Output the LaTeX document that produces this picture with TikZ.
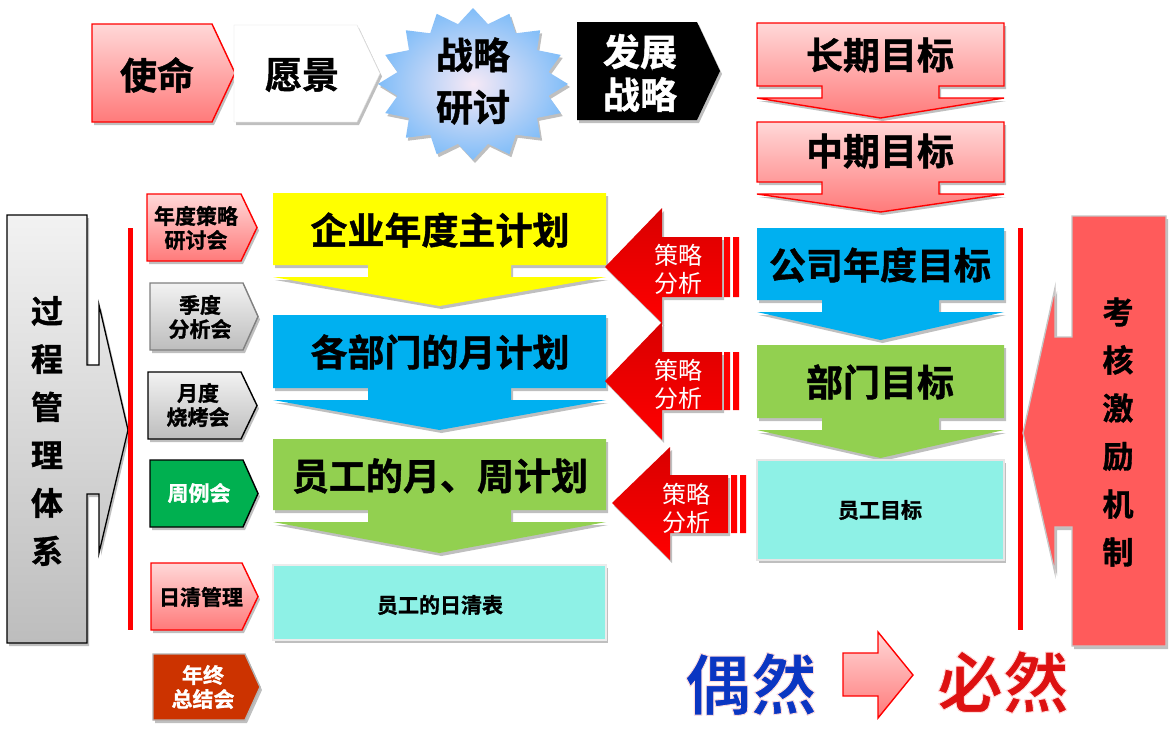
\documentclass[tikz,border=0pt]{standalone}
\usepackage{fontspec}
\newfontfamily\cjk{Noto Sans CJK SC}
\newfontfamily\cjkb{Noto Sans CJK SC Bold}[FakeBold=1.2]
\newfontfamily\cjkrim{Noto Sans CJK SC Bold}[FakeBold=1.4]
\usetikzlibrary{shadows}
\definecolor{pinkT}{HTML}{FFD8D8}
\definecolor{pinkB}{HTML}{FF7A7A}
\definecolor{yel}{HTML}{FFFF00}
\definecolor{blu}{HTML}{00B0F0}
\definecolor{grn}{HTML}{92D050}
\definecolor{cya}{HTML}{8EF1E6}
\definecolor{dgrn}{HTML}{00B050}
\definecolor{orng}{HTML}{CC3300}
\definecolor{khred}{HTML}{FF5B5B}
\definecolor{grayT}{HTML}{F2F2F2}
\definecolor{grayB}{HTML}{BDBDBD}
\definecolor{starO}{HTML}{80BDF8}
\definecolor{starI}{HTML}{F6E9F6}
\definecolor{okblue}{HTML}{0A36C2}
\definecolor{okred}{HTML}{DD1111}
\newcommand\dcall[6]{(#1,#3) -- (#2,#3) -- (#2,#4) -- ({#2-#5},#4) -- ({#2-#5},{#4+12}) -- (#2,{#4+12}) -- ({(#1+#2)/2},#6) -- (#1,{#4+12}) -- ({#1+#5},{#4+12}) -- ({#1+#5},#4) -- (#1,#4) -- cycle}
\newcommand\pent[5]{(#1,#4) -- (#2,#4) -- (#3,{(#4+#5)/2}) -- (#2,#5) -- (#1,#5) -- cycle}
\newcommand\larrow[8]{(#1,#2) -- (#3,#4) -- (#3,#6) -- (#7,#6) -- (#7,#8) -- (#3,#8) -- (#3,#5) -- cycle}
\newcommand\rimstroke{\special{pdf:literal direct 1 0.86 0.86 RG}}
\begin{document}
\begin{tikzpicture}[x=1pt,y=-1pt,
  dshad/.style={drop shadow={shadow xshift=2pt,shadow yshift=-3pt,opacity=.25,fill=black}},
  pinkbox/.style={top color=pinkT,bottom color=pinkB,draw=red,line width=1.4pt},
  graybox/.style={top color=grayT,bottom color=grayB},
  bigtxt/.style={font=\cjkb\fontsize{37}{43}\selectfont,text=black,align=center,inner sep=0pt},
  midtxt/.style={font=\cjkb\fontsize{21}{25}\selectfont,text=black,align=center,inner sep=0pt},
  smltxt/.style={font=\cjkb\fontsize{21}{24}\selectfont,text=black,align=center,inner sep=0pt},
  celue/.style={font=\cjk\fontsize{24}{28}\selectfont,text=white,align=center,inner sep=0pt},
  verttxt/.style={font=\cjkb\fontsize{32}{48}\selectfont,text=black,align=center,inner sep=0pt},
  hugetxt/.style={font=\cjkrim\fontsize{66}{70}\selectfont,inner sep=0pt},
  redarr/.style={top color=red!85!black,bottom color=red,draw=none},
  redline/.style={draw=red,line width=5pt}]
\useasboundingbox[fill=white] (0,0) rectangle (1174,737);

% ---- top row ----
\path[pinkbox,dshad] \pent{92}{212}{235}{24}{122};
\node[bigtxt] (shiming) at (157,75) {使命};
\path[fill=white,draw=gray!25,dshad] \pent{234}{357}{380}{25}{122};
\node[bigtxt] (yuanjing) at (302,75) {愿景};
\path[inner color=starI,outer color=starO,dshad]
  (568,84) \foreach \i in {0,...,15} {
    -- ({473+77*cos(\i*22.5+11.25)},{84+61*sin(\i*22.5+11.25)})
    -- ({473+95*cos((\i+1)*22.5)},{84+76*sin((\i+1)*22.5)}) } -- cycle;
\node[bigtxt,font=\cjkb\fontsize{37}{52}\selectfont] (zlyt) at (473,81) {战略\\研讨};
\path[fill=black,dshad] \pent{577}{697}{720}{22}{120};
\node[bigtxt,text=white] (fzzl) at (640,73) {发展\\战略};

% ---- right column targets ----
\path[pinkbox,dshad] \dcall{757}{1004}{23}{86}{65}{118};
\node[bigtxt] (cqmb) at (880,55) {长期目标};
\path[pinkbox,dshad] \dcall{757}{1004}{122}{182}{65}{212};
\node[bigtxt] (zqmb) at (880,151) {中期目标};
\path[fill=blu,dshad] \dcall{757}{1004}{228}{300}{65}{340};
\node[bigtxt] (gsnd) at (880,265) {公司年度目标};
\path[fill=grn,dshad] \dcall{757}{1004}{345}{418}{65}{458};
\node[bigtxt] (bmmb) at (880,382) {部门目标};
\path[fill=cya,draw=gray!20,line width=1.5pt,dshad] (757,460) rectangle (1004,560);
\node[midtxt] (ygmb) at (880,510) {员工目标};

% ---- left column plans ----
\path[fill=yel,dshad] \dcall{273}{606}{193}{265}{95}{306};
\node[bigtxt] (qynd) at (440,230) {企业年度主计划};
\path[fill=blu,dshad] \dcall{273}{606}{315}{388}{95}{430};
\node[bigtxt] (gbmy) at (440,352) {各部门的月计划};
\path[fill=grn,dshad] \dcall{273}{606}{439}{510}{95}{553};
\node[bigtxt] (ygyz) at (440,476) {员工的月、周计划};
\path[fill=cya,draw=gray!15,line width=1.5pt,dshad] (273,565) rectangle (606,640);
\node[midtxt] (ygrq) at (440,605) {员工的日清表};

% ---- strategy analysis arrows ----
\path[redarr,dshad] \larrow{605}{267}{662}{208}{323}{237}{722}{297};
\fill[red] (724,237) rectangle (730,297) (733,237) rectangle (739,297);
\node[celue] (cl1) at (678,269) {策略\\分析};
\path[redarr,dshad] \larrow{605}{381}{662}{322}{440}{352}{722}{410};
\fill[red] (724,352) rectangle (730,410) (733,352) rectangle (739,410);
\node[celue] (cl2) at (678,384) {策略\\分析};
\path[redarr,dshad] \larrow{612}{503}{670}{447}{560}{475}{728}{533};
\fill[red] (731,475) rectangle (737,533) (740,475) rectangle (746,533);
\node[celue] (cl3) at (686,508) {策略\\分析};

% ---- left process system ----
\path[graybox,draw=black,line width=1.3pt,dshad]
  (7,215) -- (87,215) -- (87,365) -- (99,365) -- (99,305) -- (128,430)
  -- (99,553) -- (99,494) -- (87,494) -- (87,643) -- (7,643) -- cycle;
\node[verttxt] (gcgl) at (47,431) {过\\程\\管\\理\\体\\系};
\draw[redline] (130,228) -- (130,630);

\path[pinkbox,dshad] \pent{147}{241}{257}{194}{261};
\node[smltxt] (ndcl) at (196,228) {年度策略\\研讨会};
\path[graybox,draw=gray,line width=1.4pt,dshad] \pent{150}{243}{258}{283}{350};
\node[smltxt] (jdfx) at (200,317) {季度\\分析会};
\path[graybox,draw=black,line width=1.4pt,dshad] \pent{148}{241}{257}{372}{439};
\node[smltxt] (ydsk) at (198,405) {月度\\烧烤会};
\path[fill=dgrn,draw=black,line width=1.4pt,dshad] \pent{150}{243}{258}{460}{527};
\node[smltxt,text=white] (zlh) at (199,493) {周例会};
\path[pinkbox,dshad] \pent{151}{242}{258}{563}{630};
\node[smltxt] (rqgl) at (201,597) {日清管理};
\path[fill=orng,draw=gray!60,line width=1.4pt,dshad] \pent{153}{245}{260}{654}{720};
\node[smltxt,text=white] (nzzj) at (203,687) {年终\\总结会};

% ---- right incentive ----
\draw[redline] (1020,228) -- (1020,630);
\path[fill=khred,draw=gray!45,line width=1.4pt,dshad]
  (1072,216) -- (1166,216) -- (1166,646) -- (1072,646) -- (1072,527) -- (1055,527)
  -- (1055,573) -- (1023,433) -- (1055,288) -- (1055,337) -- (1072,337) -- cycle;
\node[verttxt,font=\cjkb\fontsize{31}{48}\selectfont] (khjl) at (1118,432) {考\\核\\激\\励\\机\\制};

% ---- bottom ----
\node[hugetxt,text=okblue] (ouran) at (751,684) {\rimstroke 偶然};
\path[top color=pinkT,bottom color=pinkB,draw=red,line width=1.4pt]
  (843,653) -- (878,653) -- (878,632) -- (913,675) -- (878,718) -- (878,696) -- (843,696) -- cycle;
\node[hugetxt,text=okred] (biran) at (1003,682) {\rimstroke 必然};
\end{tikzpicture}
\end{document}
